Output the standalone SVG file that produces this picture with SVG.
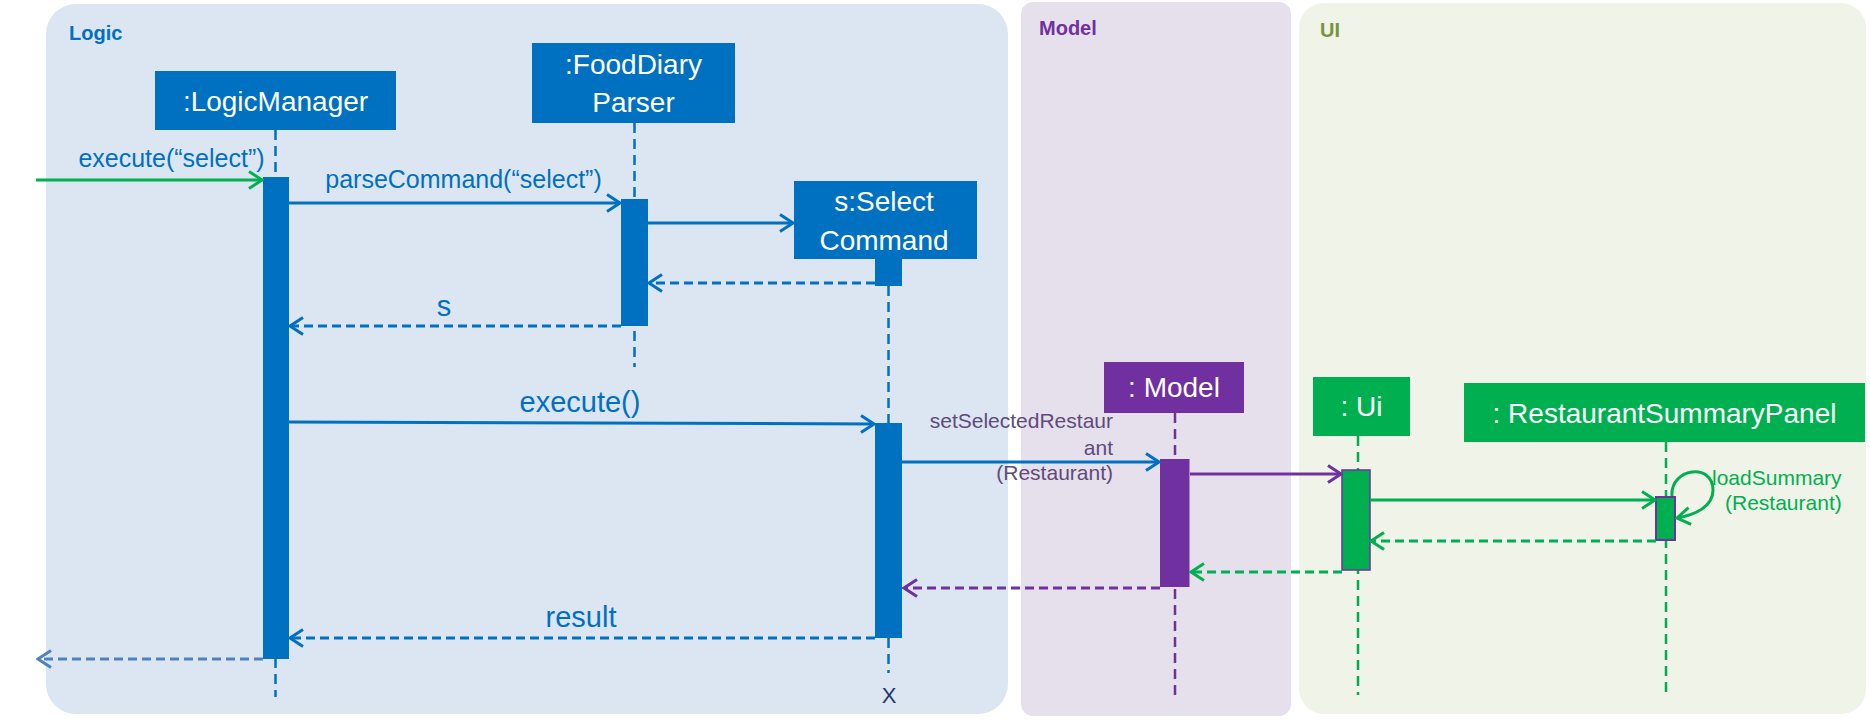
<svg xmlns="http://www.w3.org/2000/svg" width="1870" height="720" viewBox="0 0 1870 720">
<style>
  text { font-family: "Liberation Sans", Arial, sans-serif; }
  .title { font-size: 20px; font-weight: bold; }
  .boxlbl { font-size: 28px; fill: #ffffff; text-anchor: middle; }
  .msg { font-size: 25px; fill: #0070C0; text-anchor: middle; }
  .msgL { font-size: 29px; fill: #0070C0; text-anchor: middle; }
  .life { fill: none; stroke-width: 2.5; stroke-dasharray: 10 6; }
  .call { fill: none; stroke-width: 3; }
  .ret { fill: none; stroke-width: 3; stroke-dasharray: 9 5; }
  .blue { stroke: #0070C0; }
  .purple { stroke: #7030A0; }
  .green { stroke: #00B050; }
  .steel { stroke: #4F81BD; }
</style>
<defs>
  <marker id="aBlue" viewBox="0 0 17 20" refX="15" refY="10" markerWidth="17" markerHeight="20" markerUnits="userSpaceOnUse" orient="auto">
    <path d="M2,1.5 L15,10 L2,18.5" fill="none" stroke="#0070C0" stroke-width="3"/>
  </marker>
  <marker id="aGreen" viewBox="0 0 17 20" refX="15" refY="10" markerWidth="17" markerHeight="20" markerUnits="userSpaceOnUse" orient="auto">
    <path d="M2,1.5 L15,10 L2,18.5" fill="none" stroke="#00B050" stroke-width="3"/>
  </marker>
  <marker id="aPurple" viewBox="0 0 17 20" refX="15" refY="10" markerWidth="17" markerHeight="20" markerUnits="userSpaceOnUse" orient="auto">
    <path d="M2,1.5 L15,10 L2,18.5" fill="none" stroke="#7030A0" stroke-width="3"/>
  </marker>
  <marker id="aSteel" viewBox="0 0 17 20" refX="15" refY="10" markerWidth="17" markerHeight="20" markerUnits="userSpaceOnUse" orient="auto">
    <path d="M2,1.5 L15,10 L2,18.5" fill="none" stroke="#4F81BD" stroke-width="3"/>
  </marker>
</defs>
<rect x="0" y="0" width="1870" height="720" fill="#ffffff"/>

<g id="panels">
  <g id="panel-logic">
    <rect x="46" y="4" width="962" height="710" rx="30" ry="30" fill="#DCE6F2"/>
    <text class="title" x="69" y="40" fill="#0070C0">Logic</text>
  </g>
  <g id="panel-model">
    <rect x="1021" y="2" width="270" height="714" rx="12" ry="12" fill="#E6E0EC"/>
    <text class="title" x="1039" y="35" fill="#7030A0">Model</text>
  </g>
  <g id="panel-ui">
    <rect x="1299" y="3" width="567" height="711" rx="25" ry="25" fill="#EFF3E8"/>
    <text class="title" x="1320" y="37" fill="#77933C">UI</text>
  </g>
</g>

<g id="lifelines">
  <line class="life blue" x1="275.5" y1="130" x2="275.5" y2="697"/>
  <line class="life blue" x1="634.5" y1="123" x2="634.5" y2="367"/>
  <line class="life blue" x1="888.5" y1="286" x2="888.5" y2="673"/>
  <line class="life purple" x1="1175" y1="413" x2="1175" y2="697"/>
  <line class="life green" x1="1358" y1="436" x2="1358" y2="695"/>
  <line class="life green" x1="1666" y1="442" x2="1666" y2="697"/>
</g>

<g id="node-logicmanager">
  <rect x="155" y="71" width="241" height="59" fill="#0070C0"/>
  <text class="boxlbl" x="275.5" y="111">:LogicManager</text>
  <rect x="263" y="177" width="26" height="482" fill="#0070C0"/>
</g>

<g id="node-parser">
  <rect x="532" y="43" width="203" height="80" fill="#0070C0"/>
  <text class="boxlbl" x="633.5" y="74">:FoodDiary</text>
  <text class="boxlbl" x="633.5" y="112">Parser</text>
  <rect x="621" y="199" width="27" height="127" fill="#0070C0"/>
</g>

<g id="node-selectcommand">
  <rect x="794" y="181" width="183" height="78" fill="#0070C0"/>
  <text class="boxlbl" x="884" y="211">s:Select</text>
  <text class="boxlbl" x="884" y="250">Command</text>
  <rect x="875" y="259" width="27" height="27" fill="#0070C0"/>
  <rect x="875" y="423" width="27" height="215" fill="#0070C0"/>
  <text x="889" y="703" font-size="22" fill="#1F3864" text-anchor="middle">X</text>
</g>

<g id="node-model">
  <rect x="1104" y="362" width="140" height="51" fill="#7030A0"/>
  <text class="boxlbl" x="1174" y="397">: Model</text>
  <rect x="1160" y="459" width="29.5" height="128" fill="#7030A0"/>
</g>

<g id="node-ui">
  <rect x="1313" y="377" width="97" height="59" fill="#00B050"/>
  <text class="boxlbl" x="1361.5" y="416">: Ui</text>
  <rect x="1342" y="470" width="28" height="100" fill="#00B050" stroke="#7030A0" stroke-width="1.5"/>
</g>

<g id="node-summarypanel">
  <rect x="1464" y="383" width="401" height="59" fill="#00B050"/>
  <text class="boxlbl" x="1664.5" y="423">: RestaurantSummaryPanel</text>
  <rect x="1656" y="497" width="19" height="43" fill="#00B050" stroke="#7030A0" stroke-width="2"/>
</g>

<g id="connectors">
  <line class="call green" x1="36" y1="180" x2="262" y2="180" marker-end="url(#aGreen)"/>
  <text class="msg" x="171.5" y="167">execute(“select”)</text>

  <line class="call blue" x1="289" y1="203" x2="620" y2="203" marker-end="url(#aBlue)"/>
  <text class="msg" x="463.5" y="188">parseCommand(“select”)</text>

  <line class="call blue" x1="648" y1="223" x2="793" y2="223" marker-end="url(#aBlue)"/>

  <line class="ret blue" x1="875" y1="283" x2="649" y2="283" marker-end="url(#aBlue)"/>

  <line class="ret blue" x1="621" y1="326" x2="290" y2="326" marker-end="url(#aBlue)"/>
  <text class="msgL" x="444" y="316">s</text>

  <line class="call blue" x1="289" y1="422" x2="874" y2="424" marker-end="url(#aBlue)"/>
  <text class="msgL" x="580" y="412">execute()</text>

  <line class="call blue" x1="902" y1="462" x2="1159" y2="462" marker-end="url(#aBlue)"/>
  <g font-size="21" fill="#604A7B" text-anchor="end">
    <text x="1113" y="428">setSelectedRestaur</text>
    <text x="1113" y="455">ant</text>
    <text x="1113" y="480">(Restaurant)</text>
  </g>

  <line class="call purple" x1="1190" y1="474" x2="1341" y2="474" marker-end="url(#aPurple)"/>

  <line class="call green" x1="1370" y1="500" x2="1655" y2="500" marker-end="url(#aGreen)"/>

  <path class="call green" d="M1672,496 C1670,468 1713,462 1713,490 C1713,506 1696,515 1677,518" marker-end="url(#aGreen)"/>
  <g font-size="21" fill="#00B050">
    <text x="1712" y="485">loadSummary</text>
    <text x="1725" y="510">(Restaurant)</text>
  </g>

  <line class="ret green" x1="1656" y1="541" x2="1371" y2="541" marker-end="url(#aGreen)"/>

  <line class="ret green" x1="1342" y1="572" x2="1191" y2="572" marker-end="url(#aGreen)"/>

  <line class="ret purple" x1="1160" y1="588" x2="904" y2="588" marker-end="url(#aPurple)"/>

  <line class="ret blue" x1="875" y1="638" x2="290" y2="638" marker-end="url(#aBlue)"/>
  <text class="msgL" x="581" y="627">result</text>

  <line class="ret steel" x1="263" y1="659" x2="38" y2="659" marker-end="url(#aSteel)"/>
</g>
</svg>
